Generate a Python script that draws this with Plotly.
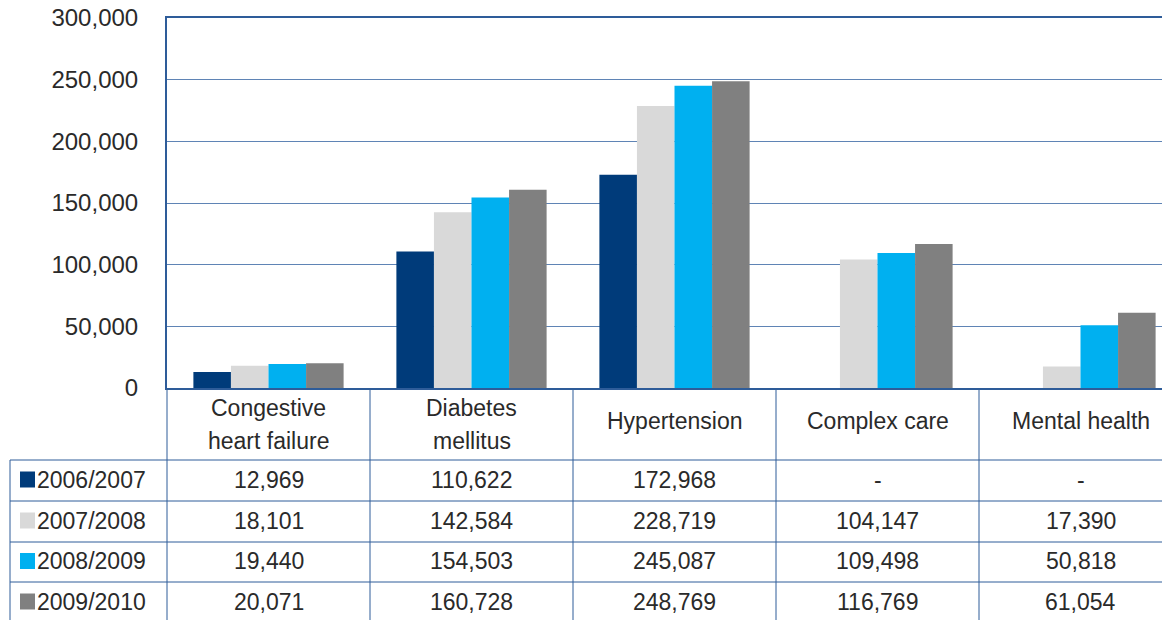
import plotly.graph_objects as go

# Chart data
categories = ["Congestive<br>heart failure", "Diabetes<br>mellitus", "Hypertension",
              "Complex care", "Mental health"]
years = ["2006/2007", "2007/2008", "2008/2009", "2009/2010"]
v_2006 = [12969, 110622, 172968, None, None]
v_2007 = [18101, 142584, 228719, 104147, 17390]
v_2008 = [19440, 154503, 245087, 109498, 50818]
v_2009 = [20071, 160728, 248769, 116769, 61054]
y_ticks = [0, 50000, 100000, 150000, 200000, 250000, 300000]

series = [v_2006, v_2007, v_2008, v_2009]
colors = ["#003B7A", "#D9D9D9", "#00B0F0", "#808080"]

FONT = "Liberation Sans, Arial, sans-serif"
TXT = "#2A2A2A"
LINE = "#2E5C99"

# the page body adds an 8px margin, so all window pixels are shifted by it
OFF = 8
W, H = 1170, 620
L, T, B = 167 - OFF, 18 - OFF, 388 - OFF   # plot left, top, y=0 (figure pixels)
COL = 203                                   # width of one category column
plot_w = W - L
x_hi = -0.5 + plot_w / COL


def py(p):
    """window pixel row -> paper y"""
    return (B - (p - OFF)) / (B - T)


def px(p):
    """window pixel column -> paper x"""
    return ((p - OFF) - L) / plot_w


def tfont():
    return dict(size=23, color=TXT, family=FONT)


fig = go.Figure()
idx = list(range(len(categories)))
for name, vals, c in zip(years, series, colors):
    fig.add_trace(go.Bar(x=idx, y=vals, name=name, marker=dict(color=c, line=dict(width=0)),
                         hoverinfo="x+y+name"))

shapes = []
ann = []

# table grid
row_edges = [460, 501, 542, 582, 623]
for r in row_edges[:-1]:
    shapes.append(dict(type="line", xref="paper", yref="paper", x0=px(10), x1=1.0,
                       y0=py(r), y1=py(r), line=dict(color=LINE, width=1)))
shapes.append(dict(type="line", xref="paper", yref="paper", x0=px(10), x1=px(10),
                   y0=py(460), y1=py(640), line=dict(color=LINE, width=1)))
for i in range(len(categories)):
    shapes.append(dict(type="line", xref="x", yref="paper", x0=i + 0.5, x1=i + 0.5,
                       y0=py(388), y1=py(640), line=dict(color=LINE, width=1)))
shapes.append(dict(type="line", xref="paper", yref="paper", x0=0, x1=0,
                   y0=py(388), y1=py(640), line=dict(color=LINE, width=1)))

# category headers
for i, cat in enumerate(categories):
    lines = cat.split("<br>")
    if len(lines) == 1:
        ann.append(dict(x=i, y=py(421), xref="x", yref="paper", text=cat, showarrow=False,
                        xanchor="center", yanchor="middle", font=tfont()))
    else:
        for k, ln in enumerate(lines):
            ann.append(dict(x=i, y=py(408 + 33 * k), xref="x", yref="paper", text=ln,
                            showarrow=False, xanchor="center", yanchor="middle", font=tfont()))

# rows: legend keys, labels and values
for r, (name, vals, c) in enumerate(zip(years, series, colors)):
    yc = (row_edges[r] + row_edges[r + 1]) / 2 - 1
    shapes.append(dict(type="rect", xref="paper", yref="paper", x0=px(20), x1=px(35),
                       y0=py(yc + 8), y1=py(yc - 8), fillcolor=c, line=dict(width=0)))
    ann.append(dict(x=px(35), y=py(yc), xref="paper", yref="paper", text=name,
                    xanchor="left", yanchor="middle", showarrow=False, font=tfont()))
    for i, v in enumerate(vals):
        ann.append(dict(x=i, y=py(yc), xref="x", yref="paper",
                        text="-" if v is None else f"{v:,}", showarrow=False,
                        xanchor="center", yanchor="middle", font=tfont()))

fig.update_layout(
    width=W, height=H,
    margin=dict(l=L, r=0, t=T, b=H - B, autoexpand=False),
    paper_bgcolor="white", plot_bgcolor="white",
    barmode="group", bargap=0.26, bargroupgap=0,
    showlegend=False,
    shapes=shapes, annotations=ann,
    xaxis=dict(range=[-0.5, x_hi], showticklabels=False, ticks="", showgrid=False,
               zeroline=False, showline=True, linecolor=LINE, linewidth=2, mirror=True,
               automargin=False),
    yaxis=dict(range=[0, 300000], tickvals=y_ticks, tickformat=",d", ticks="",
               showgrid=True, gridcolor="#5F84B5", gridwidth=1, zeroline=False,
               showline=True, linecolor=LINE, linewidth=2, automargin=False,
               ticklabeloverflow="allow", ticklabelstandoff=22,
               tickfont=dict(size=24, color=TXT, family=FONT)),
)

fig.write_html("out.html")
